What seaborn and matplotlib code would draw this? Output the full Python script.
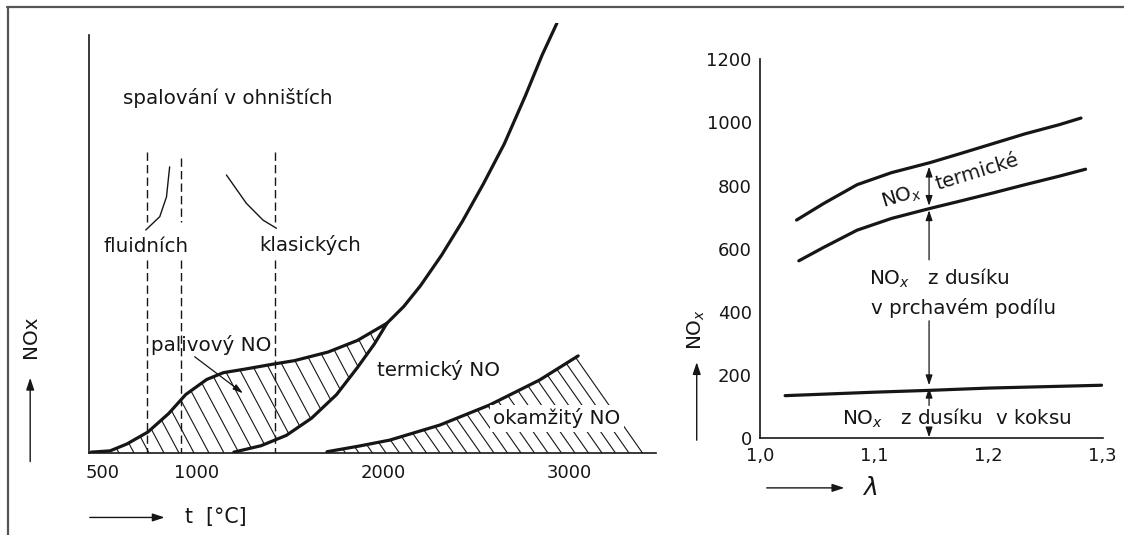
import numpy as np
import seaborn as sns
import matplotlib.pyplot as plt
from matplotlib.collections import LineCollection
from matplotlib.lines import Line2D

# --- left panel: NOx formation vs. temperature (relative units) ---
t_total = [437, 538, 628, 741, 852, 943, 1055, 1145, 1257, 1414, 1526, 1706,
           1863, 2021, 2111, 2200, 2313, 2425, 2537, 2650, 2762, 2852, 2931]
nox_total = [0.2, 0.5, 2.1, 4.9, 9.2, 13.6, 17.1, 18.7, 19.5, 20.7, 21.5, 23.5,
             26.2, 30.2, 34.1, 38.9, 46.0, 53.9, 62.6, 72.0, 83.1, 92.6, 100]
t_thermal = [1201, 1347, 1482, 1617, 1751, 1863, 1954, 2021]
nox_thermal = [0.2, 1.7, 4.1, 8.1, 13.6, 19.9, 25.4, 30.2]
t_prompt = [1700, 1870, 2036, 2304, 2572, 2839, 3045]
nox_prompt = [0.3, 1.6, 3.0, 6.5, 11.2, 17.0, 22.6]
t_prompt_edge = [3160, 3290, 3410]
nox_prompt_edge = [15.2, 7.6, 0.0]
t_fluid = [729, 804, 840, 857]
nox_fluid = [51.9, 55.0, 59.6, 66.6]
t_classic = [1161, 1268, 1357, 1429]
nox_classic = [64.7, 58.1, 54.2, 52.3]
t_bounds = [736, 920, 1420]
t_ticks = [500, 1000, 2000, 3000]

# --- right panel: NOx vs. excess air ratio ---
lam_total = [1.032, 1.056, 1.085, 1.115, 1.149, 1.174, 1.203, 1.232, 1.262, 1.281]
nox_total_r = [691, 744, 803, 841, 873, 900, 932, 964, 993, 1014]
lam_volatile = [1.034, 1.056, 1.085, 1.115, 1.149, 1.174, 1.203, 1.232, 1.262, 1.285]
nox_volatile = [562, 605, 659, 696, 728, 750, 776, 803, 830, 852]
lam_coke = [1.022, 1.10, 1.15, 1.20, 1.299]
nox_coke = [135, 146, 152, 159, 168]
lam_ticks = [1.0, 1.1, 1.2, 1.3]
lam_labels = ["1,0", "1,1", "1,2", "1,3"]
nox_ticks = [0, 200, 400, 600, 800, 1000, 1200]

ink = "#161616"
sns.set_theme(style="white")
plt.rcParams["font.family"] = ["DejaVu Sans"]
plt.rcParams["text.color"] = ink
fs = 14.3   # annotation text
fst = 13    # tick labels

fig = plt.figure(figsize=(11.24, 5.35), dpi=100)
axL = fig.add_axes([89 / 1124, (535 - 453) / 535, 567 / 1124, 429.7 / 535])
axR = fig.add_axes([760 / 1124, (535 - 438.3) / 535, 342.7 / 1124, 379 / 535])


def hatch(ax, x, lower, upper, step_px, angle, lw=0.8):
    # slanted hatch lines clipped to the region between two curves
    poly = ax.fill_between(x, lower, upper, facecolor="none", edgecolor="none", lw=0)
    bb = ax.get_position()
    W = bb.width * fig.get_figwidth() * fig.dpi
    H = bb.height * fig.get_figheight() * fig.dpi
    run = H / np.tan(np.radians(angle))
    starts = np.arange(-run, W + step_px, step_px)
    segs = [[(s / W, 1.0), ((s + run) / W, 0.0)] for s in starts]
    lc = LineCollection(segs, colors=ink, linewidths=lw, transform=ax.transAxes)
    ax.add_collection(lc, autolim=False)
    lc.set_clip_path(poly.get_paths()[0], ax.transData)


# left panel
axL.set_xlim(425, 3462)
axL.set_ylim(0, 100)

grid = np.array(sorted(set([t for t in t_total if t <= 2021] + t_thermal)))
hatch(axL, grid, np.interp(grid, t_thermal, nox_thermal, left=0),
      np.interp(grid, t_total, nox_total), 15, 62)
t_pr = np.array(t_prompt + t_prompt_edge)
hatch(axL, t_pr, np.zeros(len(t_pr)), nox_prompt + nox_prompt_edge, 13.5, 55)

axL.vlines(t_bounds, [44.9] * 3, [0] * 3, colors=ink, lw=1.0, linestyles=(0, (6, 3)))
axL.vlines(t_bounds, [70.1, 68.6, 70.1], [53.8] * 3, colors=ink, lw=1.0,
           linestyles=(0, (6, 3)))

sns.lineplot(x=t_total, y=nox_total, ax=axL, color=ink, lw=2.3)
sns.lineplot(x=t_thermal, y=nox_thermal, ax=axL, color=ink, lw=2.3)
sns.lineplot(x=t_prompt, y=nox_prompt, ax=axL, color=ink, lw=2.3)
sns.lineplot(x=t_fluid, y=nox_fluid, ax=axL, color=ink, lw=1.0)
sns.lineplot(x=t_classic, y=nox_classic, ax=axL, color=ink, lw=1.0)

axL.text(607, 82.5, "spalování v ohništích", fontsize=fs, va="center")
axL.text(728, 48.0, "fluidních", fontsize=fs, ha="center", va="center")
axL.text(1336, 48.3, "klasických", fontsize=fs, va="center")
axL.text(759, 25.1, "palivový NO", fontsize=fs, va="center")
axL.text(1965, 19.3, "termický NO", fontsize=fs, va="center")
axL.text(2589, 8.1, "okamžitý NO", fontsize=fs, va="center",
         bbox=dict(facecolor="white", edgecolor="none", pad=2.5))
axL.annotate("", xy=(1250, 13.9), xytext=(991, 22.4),
             arrowprops=dict(arrowstyle="-|>,head_length=0.5,head_width=0.15",
                             color=ink, lw=0.9, shrinkA=0, shrinkB=0))

axL.set_xticks(t_ticks)
axL.set_xticklabels([str(t) for t in t_ticks])
axL.set_yticks([])
axL.tick_params(axis="x", length=0, pad=8, labelsize=fst, labelcolor=ink)
axL.set_xlabel("")
axL.set_ylabel("")
for side in ["top", "right"]:
    axL.spines[side].set_visible(False)
axL.spines["left"].set_bounds(0, 97.3)
for side in ["left", "bottom"]:
    axL.spines[side].set_color(ink)
    axL.spines[side].set_linewidth(1.2)

axL.annotate("", xy=(110, 17.5), xytext=(110, -2.0), annotation_clip=False,
             arrowprops=dict(arrowstyle="-|>,head_length=0.6,head_width=0.2",
                             color=ink, lw=1.0, shrinkA=0, shrinkB=0))
axL.text(110, 27.0, "NOx", fontsize=fs, rotation=90, ha="center", va="center",
         clip_on=False)
axL.annotate("", xy=(830, -15.0), xytext=(429, -15.0), annotation_clip=False,
             arrowprops=dict(arrowstyle="-|>,head_length=0.6,head_width=0.2",
                             color=ink, lw=1.0, shrinkA=0, shrinkB=0))
axL.text(938, -15.0, "t  [°C]", fontsize=fs + 0.5, va="center", clip_on=False)

# right panel
axR.set_xlim(1.0, 1.3)
axR.set_ylim(0, 1200)
sns.lineplot(x=lam_total, y=nox_total_r, ax=axR, color=ink, lw=2.3)
sns.lineplot(x=lam_volatile, y=nox_volatile, ax=axR, color=ink, lw=2.3)
sns.lineplot(x=lam_coke, y=nox_coke, ax=axR, color=ink, lw=2.3)

lam_arrow = 1.148
head = "-|>,head_length=0.5,head_width=0.17"
both = "<|-|>,head_length=0.5,head_width=0.17"
for a, b, style in [(860, 736, both), (722, 565, head), (168, 372, head),
                    (160, 104, head), (3, 28, head)]:
    axR.annotate("", xy=(lam_arrow, a), xytext=(lam_arrow, b),
                 arrowprops=dict(arrowstyle=style, color=ink, lw=0.9,
                                 shrinkA=0, shrinkB=0))

axR.text(1.124, 765, "NO$_x$", fontsize=fs, rotation=17, ha="center", va="center",
         rotation_mode="anchor")
axR.text(1.1900, 842, "termické", fontsize=fs, rotation=17, ha="center",
         va="center", rotation_mode="anchor")
axR.text(1.0957, 508, "NO$_x$   z dusíku", fontsize=fs, va="center")
axR.text(1.0968, 412, "v prchavém podílu", fontsize=fs, va="center")
axR.text(1.0721, 63, "NO$_x$   z dusíku  v koksu", fontsize=fs, va="center")

axR.set_xticks(lam_ticks)
axR.set_xticklabels(lam_labels)
axR.set_yticks(nox_ticks)
axR.set_yticklabels([str(v) for v in nox_ticks])
axR.tick_params(direction="in", length=7, width=1.0, color=ink, labelsize=fst,
                labelcolor=ink)
axR.tick_params(axis="y", pad=6)
axR.tick_params(axis="x", pad=6)
axR.set_xlabel("")
axR.set_ylabel("")
for side in ["top", "right"]:
    axR.spines[side].set_visible(False)
for side in ["left", "bottom"]:
    axR.spines[side].set_color(ink)
    axR.spines[side].set_linewidth(1.2)

axR.annotate("", xy=(0.9446, 241), xytext=(0.9446, -6), annotation_clip=False,
             arrowprops=dict(arrowstyle="-|>,head_length=0.6,head_width=0.2",
                             color=ink, lw=1.0, shrinkA=0, shrinkB=0))
axR.text(0.9446, 345, "NO$_x$", fontsize=fs, rotation=90, ha="center",
         va="center", clip_on=False)
axR.annotate("", xy=(1.0738, -157), xytext=(1.0059, -157), annotation_clip=False,
             arrowprops=dict(arrowstyle="-|>,head_length=0.6,head_width=0.2",
                             color=ink, lw=1.0, shrinkA=0, shrinkB=0))
axR.text(1.0897, -157, r"$\lambda$", fontsize=18, va="center", clip_on=False)

# scanned-page frame
fig.add_artist(Line2D([7 / 1124, 1.0], [1 - 6.5 / 535] * 2, transform=fig.transFigure,
                      color="#555555", lw=1.6))
fig.add_artist(Line2D([7.5 / 1124] * 2, [0.0, 1 - 6.5 / 535], transform=fig.transFigure,
                      color="#555555", lw=1.6))

fig.savefig("out.png", dpi=100)
